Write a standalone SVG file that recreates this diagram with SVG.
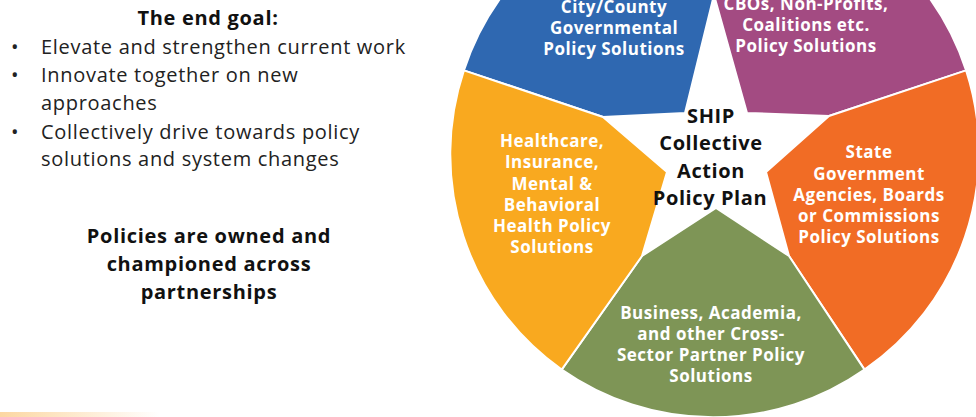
<svg xmlns="http://www.w3.org/2000/svg" width="976" height="417" viewBox="0 0 976 417">
<defs>
<linearGradient id="fade" x1="0" y1="0" x2="1" y2="0">
<stop offset="0" stop-color="#fcd7a2"/>
<stop offset="1" stop-color="#fcd7a2" stop-opacity="0"/>
</linearGradient>
</defs>
<style>
.seg{stroke:#ffffff;stroke-width:2;stroke-linejoin:miter}
.lbl{font-family:"Open Sans","Liberation Sans",sans-serif;font-weight:700;font-size:17px;letter-spacing:0.5px;fill:#ffffff;text-anchor:middle}
.ctr{font-family:"Open Sans","Liberation Sans",sans-serif;font-weight:700;font-size:20px;letter-spacing:0.6px;fill:#111111;text-anchor:middle}
.body{font-family:"Open Sans","Liberation Sans",sans-serif;font-size:20px;letter-spacing:0.7px;fill:#222222}
.bodyb{font-family:"Open Sans","Liberation Sans",sans-serif;font-size:20px;letter-spacing:0.7px;font-weight:700;fill:#111111;text-anchor:middle}
</style>
<rect width="976" height="417" fill="#ffffff"/>
<rect x="0" y="412" width="160" height="5" fill="url(#fade)"/>

<g id="left-text">
<text class="bodyb" x="208" y="25">The end goal:</text>
<text class="body" x="11" y="54">•</text>
<text class="body" x="41" y="54">Elevate and strengthen current work</text>
<text class="body" x="11" y="82">•</text>
<text class="body" x="41" y="82">Innovate together on new</text>
<text class="body" x="41" y="110">approaches</text>
<text class="body" x="11" y="139">•</text>
<text class="body" x="41" y="139">Collectively drive towards policy</text>
<text class="body" x="41" y="166">solutions and system changes</text>
<text class="bodyb" x="209" y="243">Policies are owned and</text>
<text class="bodyb" x="209" y="271">championed across</text>
<text class="bodyb" x="209" y="299">partnerships</text>
</g>

<g id="seg-city-county">
<path class="seg" fill="#2f68b1" d="M603,117 L463.9,70.4 A264,264 0 0 1 715,-112 L714,-5 L685,113 Z"/>
<text class="lbl" x="614" y="13">City/County</text>
<text class="lbl" x="614" y="34">Governmental</text>
<text class="lbl" x="614" y="55">Policy Solutions</text>
</g>

<g id="seg-cbos">
<path class="seg" fill="#a34b82" d="M714,-5 L715,-112 A264,264 0 0 1 966.1,70.4 L829,116 L747,113 Z"/>
<text class="lbl" x="806" y="10">CBOs, Non-Profits,</text>
<text class="lbl" x="806" y="31">Coalitions etc.</text>
<text class="lbl" x="806" y="52">Policy Solutions</text>
</g>

<g id="seg-state">
<path class="seg" fill="#f16c25" d="M829,116 L966.1,70.4 A264,264 0 0 1 864.5,369.6 L789,256 L766,172 Z"/>
<text class="lbl" x="869" y="158">State</text>
<text class="lbl" x="869" y="180">Government</text>
<text class="lbl" x="869" y="201">Agencies, Boards</text>
<text class="lbl" x="869" y="222">or Commissions</text>
<text class="lbl" x="869" y="243">Policy Solutions</text>
</g>

<g id="seg-business">
<path class="seg" fill="#7e9556" d="M789,256 L864.5,369.6 A264,264 0 0 1 561.7,369.6 L642,256 L716,208 Z"/>
<text class="lbl" x="711" y="319">Business, Academia,</text>
<text class="lbl" x="711" y="340">and other Cross-</text>
<text class="lbl" x="711" y="361">Sector Partner Policy</text>
<text class="lbl" x="711" y="382">Solutions</text>
</g>

<g id="seg-healthcare">
<path class="seg" fill="#f9a91f" d="M642,256 L561.7,369.6 A264,264 0 0 1 463.9,70.4 L603,117 L667,172 Z"/>
<text class="lbl" x="552" y="147">Healthcare,</text>
<text class="lbl" x="552" y="168">Insurance,</text>
<text class="lbl" x="552" y="190">Mental &amp;</text>
<text class="lbl" x="552" y="211">Behavioral</text>
<text class="lbl" x="552" y="232">Health Policy</text>
<text class="lbl" x="552" y="253">Solutions</text>
</g>

<g id="center-plan">
<text class="ctr" x="711" y="123">SHIP</text>
<text class="ctr" x="711" y="150">Collective</text>
<text class="ctr" x="711" y="178">Action</text>
<text class="ctr" x="710" y="205">Policy Plan</text>
</g>

<g id="connectors"></g>
</svg>
